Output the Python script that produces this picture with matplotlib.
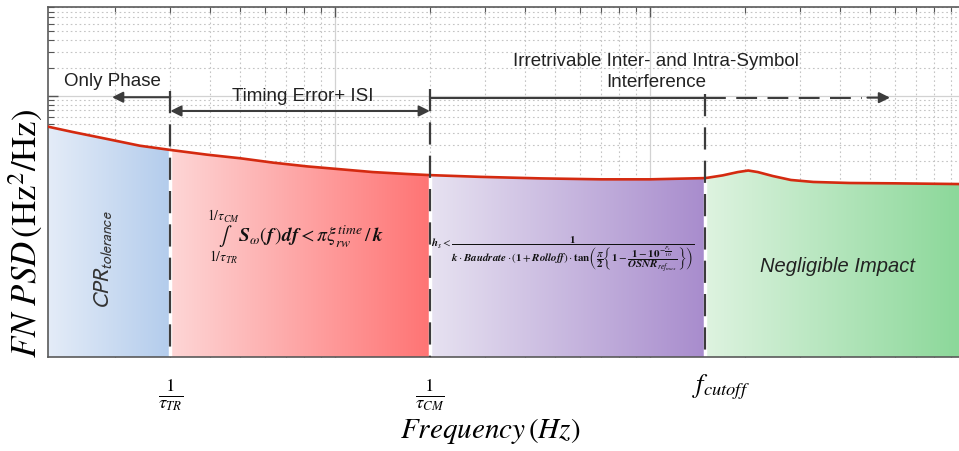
import numpy as np
import matplotlib
matplotlib.use('Agg')
import matplotlib.pyplot as plt
from matplotlib.colors import to_rgb
from matplotlib.patches import Polygon
from matplotlib.ticker import LogLocator, NullFormatter
import matplotlib.transforms as mtransforms

plt.rcParams['font.family'] = ['Liberation Sans', 'DejaVu Sans']
plt.rcParams['mathtext.fontset'] = 'stix'

# FN PSD sketch curve (arbitrary units)
freq = [1.227, 1.47, 1.89, 2.4, 3, 3.92, 5, 6.36, 8.15, 10.4, 13.2, 16.9, 20,
        29, 45, 70, 100, 150, 170, 190, 205, 220, 245, 280, 330, 430, 600, 957]
psd = [0.468, 0.41, 0.345, 0.292, 0.263, 0.234, 0.214, 0.192, 0.175, 0.163,
       0.152, 0.145, 0.141, 0.135, 0.130, 0.127, 0.127, 0.131, 0.140, 0.152,
       0.158, 0.152, 0.138, 0.125, 0.119, 0.116, 0.115, 0.113]

x_min, x_max = 1.227, 957
y_min, y_max = 0.00156, 9.06

# 1/tau_TR, 1/tau_CM, f_cutoff
f_tr, f_cm, f_cut = 3, 20, 150
region_edges = [x_min, f_tr, f_cm, f_cut, x_max]
region_colors = [('#e4ecf8', '#b3ccec'), ('#fdd6d6', '#ff7474'),
                 ('#e7e2f1', '#a88ccd'), ('#def3e0', '#8cd89a')]
tick_pos = [f_tr, f_cm, f_cut]
tick_labels = [r'$\frac{1}{\tau_{TR}}$', r'$\frac{1}{\tau_{CM}}$', r'$f_{cutoff}$']

dark = '#3c3c3c'


def psd_at(x):
    return 10 ** np.interp(np.log10(x), np.log10(freq), np.log10(psd))


def ax_frac(x):
    return (np.log10(x) - np.log10(x_min)) / (np.log10(x_max) - np.log10(x_min))


fig = plt.figure(figsize=(9.59, 4.52), dpi=100)
ax = fig.add_axes([48 / 959, 1 - 358 / 452, 1 - 48 / 959, 350 / 452])
ax.set_xscale('log')
ax.set_yscale('log')
ax.set_xlim(x_min, x_max)
ax.set_ylim(y_min, y_max)
ax.set_autoscale_on(False)
ax.set_axisbelow(True)

for loc_axis in (ax.xaxis, ax.yaxis):
    loc_axis.set_major_locator(LogLocator(base=10, numticks=20))
    loc_axis.set_minor_locator(LogLocator(base=10, subs=np.arange(2, 10), numticks=100))
    loc_axis.set_minor_formatter(NullFormatter())

ax.grid(which='major', color='#d2d2d2', lw=0.9, ls='-')
ax.grid(which='minor', color='#c4c4c4', lw=0.8, ls=(0, (1.5, 2.5)))
ax.tick_params(which='both', direction='in', top=True, right=False,
               labelbottom=False, labelleft=False, color='#555555')
ax.tick_params(which='major', length=7, width=1)
ax.tick_params(which='minor', length=4, width=0.8)
for side in ('left', 'bottom', 'top'):
    ax.spines[side].set_color('#5a5a5a')
    ax.spines[side].set_linewidth(1.2)
ax.spines['right'].set_visible(False)

# gradient filled regions under the curve
for x0, x1, (c0, c1) in zip(region_edges[:-1], region_edges[1:], region_colors):
    inside = [(f, p) for f, p in zip(freq, psd) if x0 < f < x1]
    verts = [(x0, y_min), (x0, psd_at(x0))] + inside + [(x1, psd_at(x1)), (x1, y_min)]
    clip = Polygon(verts, closed=True, transform=ax.transData)
    grad = np.linspace(to_rgb(c0), to_rgb(c1), 256)[None, :, :]
    im = ax.imshow(grad, extent=(ax_frac(x0), ax_frac(x1), 0, 1), transform=ax.transAxes,
                   aspect='auto', interpolation='bilinear', zorder=1)
    im.set_clip_path(clip)

ax.set_xlim(x_min, x_max)
ax.set_ylim(y_min, y_max)

# white gaps and dashed region boundaries
ax.vlines(tick_pos, y_min, [psd_at(x) for x in tick_pos], colors='white', lw=2.5, zorder=2)
ax.plot(freq, psd, color='#d42a10', lw=1.9, zorder=3)
for x, top in zip(tick_pos, [1.13, 1.19, 1.05]):
    ax.plot([x, x], [top, y_min], color=dark, lw=1.6, ls=(0, (10, 5)), zorder=4)

# region arrows
head = dict(color=dark, lw=1.5, mutation_scale=16, shrinkA=0, shrinkB=0)
ax.annotate('', xy=(1.96, 0.97), xytext=(f_tr, 0.97), arrowprops=dict(arrowstyle='-|>', **head))
ax.annotate('', xy=(f_cm, 0.69), xytext=(f_tr, 0.69), arrowprops=dict(arrowstyle='<|-|>', **head))
ax.plot([f_cm, f_cut], [0.96, 0.96], color=dark, lw=1.5, zorder=4)
ax.plot([f_cut, 470], [0.96, 0.96], color=dark, lw=1.5, ls=(0, (10, 5)), zorder=4)
ax.annotate('', xy=(578, 0.96), xytext=(490, 0.96), arrowprops=dict(arrowstyle='-|>', **head))

ax.text(1.96, 1.45, 'Only Phase', fontsize=13.5, ha='center', va='center', color='#222222')
ax.text(7.9, 1.0, 'Timing Error+ ISI', fontsize=13.5, ha='center', va='center', color='#222222')
ax.text(104.5, 1.86, 'Irretrivable Inter- and Intra-Symbol\nInterference', fontsize=13.5,
        ha='center', va='center', linespacing=1.3, color='#222222')
ax.text(1.83, 0.018, r'$\mathsf{CPR}_{\mathsf{tolerance}}$', fontsize=16, rotation=90,
        ha='center', va='center', color='#333333')
ax.text(395, 0.0149, 'Negligible Impact', fontsize=14.5, style='italic',
        ha='center', va='center', color='#222222')

ax.text(7.5, 0.031,
        r'$\underset{1/\tau_{TR}}{\overset{1/\tau_{CM}}{\int}}\mathbfit{S}_{\omega}\left(\mathbfit{f}\,\right)'
        r'\mathbfit{df} < \pi\xi_{rw}^{time}\,/\,\mathbfit{k}$',
        fontsize=14, ha='center', va='center', color='#111111')
ax.text(53, 0.0205,
        r'$\mathbfit{h}_s < \dfrac{\mathbf{1}}{\mathbfit{k}\cdot \mathbfit{Baudrate}\cdot'
        r'\left(\mathbf{1}+\mathbfit{Rolloff}\right)\cdot\mathbf{tan}'
        r'\left(\dfrac{\pi}{\mathbf{2}}\left\{\mathbf{1}-\dfrac{\mathbf{1}-\mathbf{10}^{-\frac{P_s}{10}}}'
        r'{\mathbfit{OSNR}_{ref_{max}}}\right\}\right)}$',
        fontsize=7.9, ha='center', va='center', color='#111111')

# custom frequency tick labels
trans = mtransforms.blended_transform_factory(ax.transData, ax.transAxes)
for x, lab in zip(tick_pos[:2], tick_labels[:2]):
    ax.text(x, -0.105, lab, fontsize=19, ha='center', va='center', transform=trans)
ax.annotate(tick_labels[2], xy=(f_cut, -0.083), xycoords=trans, xytext=(-10, 0),
            textcoords='offset points', fontsize=19, ha='left', va='center')

ax.set_xlabel(r'$Frequency\,(Hz)$', fontsize=21)
ax.xaxis.set_label_coords(0.485, -0.165)
ax.set_ylabel(r'$FN\ PSD\,\left(\mathrm{Hz}^{2}/\mathrm{Hz}\right)$', fontsize=25)
ax.yaxis.set_label_coords(-0.003, 0.357)

fig.savefig('out.png', dpi=100)
